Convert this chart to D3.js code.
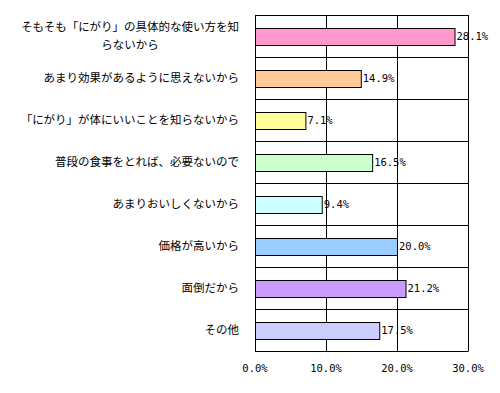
<!DOCTYPE html>
<html>
<head>
<meta charset="utf-8">
<script src="https://cdn.jsdelivr.net/npm/d3@7"></script>
<style>
  body { margin: 0; background: #fff; }
  text { font-family: "Noto Sans CJK JP", sans-serif; }
  .val { font-family: "DejaVu Sans Mono", monospace; font-size: 10.5px; }
</style>
</head>
<body>
<div id="vis"></div>
<script>
const categories = [
  ["そもそも「にがり」の具体的な使い方を知", "らないから"],
  ["あまり効果があるように思えないから"],
  ["「にがり」が体にいいことを知らないから"],
  ["普段の食事をとれば、必要ないので"],
  ["あまりおいしくないから"],
  ["価格が高いから"],
  ["面倒だから"],
  ["その他"]
];
const values = [28.1, 14.9, 7.1, 16.5, 9.4, 20.0, 21.2, 17.5];
const colors = ["#FF99CC", "#FFCC99", "#FFFF99", "#CCFFCC", "#CCFFFF", "#99CCFF", "#CC99FF", "#CCCCFF"];
const ticks = [0, 10, 20, 30];

const margin = { top: 15, right: 32, bottom: 42, left: 255 },
    width = 500 - margin.left - margin.right,
    height = 393 - margin.top - margin.bottom;

const svg = d3.select("#vis")
    .append("svg")
    .attr("width", 500)
    .attr("height", 393)
    .append("g")
    .attr("transform", "translate(" + margin.left + "," + margin.top + ")");

const x = d3.scaleLinear().domain([0, 30]).range([0, width]);
const y = d3.scaleBand().domain(d3.range(categories.length)).range([0, height]);
const barH = 17;

// value labels (grid lines sit over them, as in the original)
svg.selectAll(".val")
    .data(values)
    .enter()
    .append("text")
    .attr("class", "val")
    .attr("x", d => x(d) + 2)
    .attr("y", (d, i) => y(i) + y.bandwidth() / 2)
    .attr("dy", "0.35em")
    .text(d => d.toFixed(1) + "%");

// grid
svg.selectAll(".vgrid")
    .data(ticks)
    .enter()
    .append("line")
    .attr("x1", d => Math.round(x(d)) + 0.5)
    .attr("x2", d => Math.round(x(d)) + 0.5)
    .attr("y1", 0)
    .attr("y2", height)
    .attr("stroke", "#000");

svg.selectAll(".hgrid")
    .data(d3.range(categories.length + 1))
    .enter()
    .append("line")
    .attr("x1", 0)
    .attr("x2", Math.round(x(30)) + 0.5)
    .attr("y1", d => Math.round(d * y.step()) + 0.5)
    .attr("y2", d => Math.round(d * y.step()) + 0.5)
    .attr("stroke", "#000");

// bars
svg.selectAll(".bar")
    .data(values)
    .enter()
    .append("rect")
    .attr("x", 0.5)
    .attr("y", (d, i) => Math.round(y(i) + (y.bandwidth() - barH) / 2) + 0.5)
    .attr("width", d => x(d))
    .attr("height", barH)
    .attr("fill", (d, i) => colors[i])
    .attr("stroke", "#000");

// tick labels
svg.selectAll(".tick")
    .data(ticks)
    .enter()
    .append("text")
    .attr("class", "val")
    .attr("x", d => x(d))
    .attr("y", height + 17)
    .attr("dy", "0.35em")
    .attr("text-anchor", "middle")
    .text(d => d.toFixed(1) + "%");

// category labels
const labelRight = -16;
categories.forEach((lines, i) => {
    const cy = y(i) + y.bandwidth() / 2;
    if (lines.length === 1) {
        svg.append("text")
            .attr("x", labelRight)
            .attr("y", cy)
            .attr("dy", "0.35em")
            .attr("text-anchor", "end")
            .attr("font-size", "11.5px")
            .text(lines[0]);
    } else {
        const first = svg.append("text")
            .attr("x", labelRight)
            .attr("y", cy - 9)
            .attr("dy", "0.35em")
            .attr("text-anchor", "end")
            .attr("font-size", "11.5px")
            .text(lines[0]);
        const w = first.node().getComputedTextLength();
        svg.append("text")
            .attr("x", labelRight - w / 2)
            .attr("y", cy + 9)
            .attr("dy", "0.35em")
            .attr("text-anchor", "middle")
            .attr("font-size", "11.5px")
            .text(lines[1]);
    }
});
</script>
</body>
</html>
